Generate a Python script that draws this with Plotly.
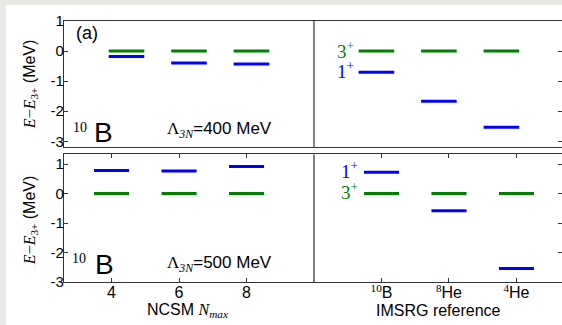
import plotly.graph_objects as go

# ---- data ----
nmax = [4, 6, 8]
imsrg_refs = ["10B", "8He", "4He"]
imsrg_pos = [12, 14, 16]
ncsm_3p_400 = [0.0, 0.0, 0.0]
ncsm_1p_400 = [-0.18, -0.40, -0.43]
imsrg_3p_400 = [0.0, 0.0, 0.0]
imsrg_1p_400 = [-0.70, -1.67, -2.53]
ncsm_3p_500 = [0.0, 0.0, 0.0]
ncsm_1p_500 = [0.78, 0.77, 0.92]
imsrg_3p_500 = [0.0, 0.0, 0.0]
imsrg_1p_500 = [0.72, -0.58, -2.54]
y_ticks = [-3, -2, -1, 0, 1]
x_ticks = [4, 6, 8, 12, 14, 16]
x_ticktext = ["4", "6", "8",
              '<sup><span style="font-family:Liberation Serif">10</span></sup>B',
              '<sup><span style="font-family:Liberation Serif">8</span></sup>He',
              '<sup><span style="font-family:Liberation Serif">4</span></sup>He']

GREEN = "#008000"
BLUE = "#0000ff"
SANS = "Liberation Sans"
SERIF = "Liberation Serif"


def segs(xs, ys, hw):
    X, Y = [], []
    for x, y in zip(xs, ys):
        X += [x - hw, x + hw, None]
        Y += [y, y, None]
    return X, Y


fig = go.Figure()
panels = [
    ("x2", "y2", ncsm_3p_400 + imsrg_3p_400, ncsm_1p_400 + imsrg_1p_400, 0.57),
    ("x", "y", ncsm_3p_500 + imsrg_3p_500, ncsm_1p_500 + imsrg_1p_500, 0.52),
]
for xa, ya, g, b, hw in panels:
    xs = nmax + imsrg_pos
    X, Y = segs(xs, g, hw)
    fig.add_trace(go.Scatter(x=X, y=Y, mode="lines", line=dict(color=GREEN, width=3),
                             xaxis=xa, yaxis=ya, showlegend=False, hoverinfo="skip"))
    X, Y = segs(xs, b, hw)
    fig.add_trace(go.Scatter(x=X, y=Y, mode="lines", line=dict(color=BLUE, width=3),
                             xaxis=xa, yaxis=ya, showlegend=False, hoverinfo="skip"))

axis_common = dict(showline=True, linecolor="#333", linewidth=1.2, mirror="ticks",
                   showgrid=False, zeroline=False, ticks="inside", ticklen=4,
                   tickcolor="#333")

fig.update_layout(
    width=562, height=325,
    margin=dict(l=64, r=0, t=21, b=43),
    paper_bgcolor="#e8e8e4", plot_bgcolor="white",
    font=dict(family=SANS, size=15, color="black"),
    xaxis=dict(axis_common, range=[2.59, 17.35], domain=[0, 1], anchor="y",
               tickvals=x_ticks, ticktext=x_ticktext, tickfont=dict(size=16),
               ticklabelstandoff=-4),
    yaxis=dict(axis_common, range=[-3, 1.33], domain=[0, 0.489], anchor="x",
               tickvals=y_ticks, ticktext=["-3", "-2", "-1", "0", "1"],
               ticklabelstandoff=-4),
    xaxis2=dict(axis_common, range=[2, 17.94], domain=[0, 1], anchor="y2",
                showticklabels=False, ticks=""),
    yaxis2=dict(axis_common, range=[-3.2, 1], domain=[0.516, 1], anchor="x2",
                tickvals=y_ticks, ticktext=["-3", "-2", "-1", "0", "1"],
                ticklabelstandoff=-4),
)

shapes = [
    dict(type="rect", xref="paper", yref="paper", x0=-58 / 498, x1=1.05,
         y0=-0.3, y1=277 / 261, fillcolor="white", line=dict(width=0), layer="below"),
    dict(type="line", xref="x", yref="y domain", x0=10, x1=10, y0=0, y1=1,
         line=dict(color="#808080", width=2)),
    dict(type="line", xref="x2", yref="y2 domain", x0=10, x1=10, y0=0, y1=1,
         line=dict(color="#808080", width=2)),
]
fig.update_layout(shapes=shapes)

ann = []
lam = '<span style="font-family:Liberation Serif">Λ<sub><i>3N</i></sub></span>'
ytitle = ('<span style="font-family:Liberation Serif"><i>E</i>−<i>E</i><sub>3+</sub></span>'
          ' (MeV)')
# top panel
ann += [
    dict(x=2.32, y=0.6, xref="x2", yref="y2", text="(a)", font=dict(size=18),
         xanchor="left", yanchor="middle", showarrow=False),
    dict(x=2.22, y=-2.55, xref="x2", yref="y2", text="10",
         font=dict(size=14, family=SERIF), xanchor="left", yanchor="middle", showarrow=False),
    dict(x=2.9, y=-2.72, xref="x2", yref="y2", text="B", font=dict(size=28),
         xanchor="left", yanchor="middle", showarrow=False),
    dict(x=5.23, y=-2.63, xref="x2", yref="y2", text=lam + "=400 MeV", font=dict(size=17),
         xanchor="left", yanchor="middle", showarrow=False),
    dict(x=11.34, y=0.05, xref="x2", yref="y2", text="3<sup>+</sup>",
         font=dict(size=19, family=SERIF, color=GREEN), xanchor="right", yanchor="middle",
         showarrow=False),
    dict(x=11.34, y=-0.63, xref="x2", yref="y2", text="1<sup>+</sup>",
         font=dict(size=19, family=SERIF, color=BLUE), xanchor="right", yanchor="middle",
         showarrow=False),
    dict(x=-0.068, y=0.7586, xref="paper", yref="paper", text=ytitle, textangle=-90,
         font=dict(size=16), xanchor="center", yanchor="middle", showarrow=False),
]
# bottom panel
ann += [
    dict(x=2.77, y=-2.2, xref="x", yref="y", text="10",
         font=dict(size=14, family=SERIF), xanchor="left", yanchor="middle", showarrow=False),
    dict(x=3.45, y=-2.4, xref="x", yref="y", text="B", font=dict(size=28),
         xanchor="left", yanchor="middle", showarrow=False),
    dict(x=5.58, y=-2.4, xref="x", yref="y", text=lam + "=500 MeV", font=dict(size=17),
         xanchor="left", yanchor="middle", showarrow=False),
    dict(x=11.36, y=0.79, xref="x", yref="y", text="1<sup>+</sup>",
         font=dict(size=19, family=SERIF, color=BLUE), xanchor="right", yanchor="middle",
         showarrow=False),
    dict(x=11.36, y=0.08, xref="x", yref="y", text="3<sup>+</sup>",
         font=dict(size=19, family=SERIF, color=GREEN), xanchor="right", yanchor="middle",
         showarrow=False),
    dict(x=-0.068, y=0.2375, xref="paper", yref="paper", text=ytitle, textangle=-90,
         font=dict(size=16), xanchor="center", yanchor="middle", showarrow=False),
    dict(x=6.26, y=-0.108, xref="x", yref="paper",
         text='NCSM <span style="font-family:Liberation Serif"><i>N</i><sub><i>max</i></sub></span>',
         font=dict(size=16), xanchor="center", yanchor="middle", showarrow=False),
    dict(x=13.7, y=-0.108, xref="x", yref="paper", text="IMSRG reference",
         font=dict(size=16), xanchor="center", yanchor="middle", showarrow=False),
]
fig.update_layout(annotations=ann)

fig.write_html("out.html", config={"displayModeBar": False},
               post_script="document.body.style.margin='0';document.body.style.overflow='hidden';")
